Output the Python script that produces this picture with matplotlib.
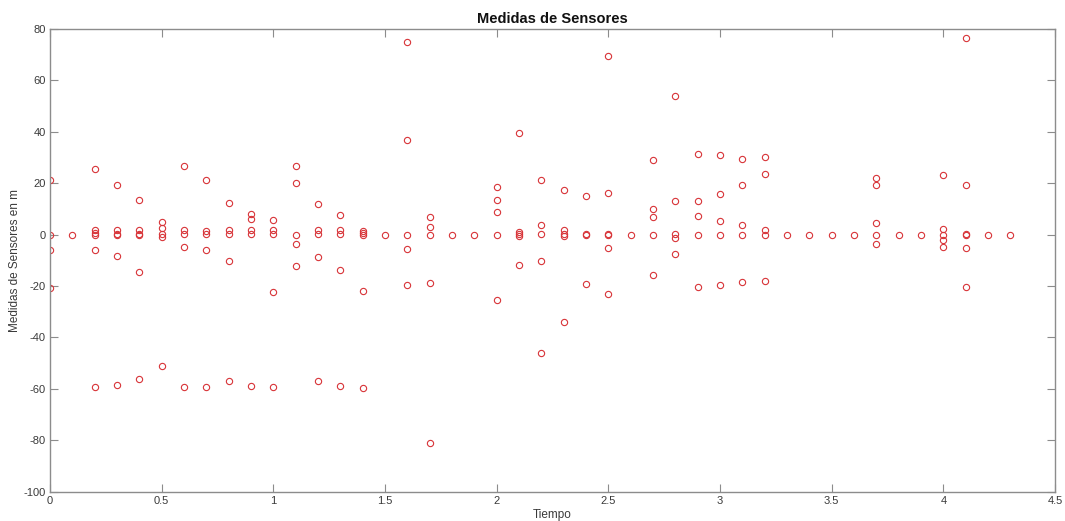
import matplotlib

matplotlib.use("Agg")

import matplotlib.pyplot as plt

plt.rcParams["font.family"] = ["Liberation Sans", "DejaVu Sans"]
plt.rcParams["axes.unicode_minus"] = False

tiempos = [
    0.0, 0.1, 0.2, 0.3, 0.4, 0.5, 0.6, 0.7, 0.8, 0.9,
    1.0, 1.1, 1.2, 1.3, 1.4, 1.5, 1.6, 1.7, 1.8, 1.9,
    2.0, 2.1, 2.2, 2.3, 2.4, 2.5, 2.6, 2.7, 2.8, 2.9,
    3.0, 3.1, 3.2, 3.3, 3.4, 3.5, 3.6, 3.7, 3.8, 3.9,
    4.0, 4.1, 4.2, 4.3,
]
medidas = [
    [21.4, 0, -5.8, -20.9],
    [0],
    [25.6, 2.0, 0.5, 0, -6.0, -59.1],
    [19.5, 2.0, 0.4, 0, -8.4, -58.6],
    [13.5, 2.0, 0.4, 0, -14.7, -56.0],
    [5.1, 2.7, 0.1, -0.9, -51.0],
    [26.6, 1.7, 0.4, -4.8, -59.4],
    [21.3, 1.4, 0.1, -5.8, -59.2],
    [12.5, 2.0, 0.4, -10.3, -57.0],
    [8.2, 6.0, 2.0, 0.4, -58.7],
    [5.8, 2.0, 0.4, -22.3, -59.2],
    [26.9, 20.0, 0, -3.8, -12.2],
    [11.8, 1.9, 0.4, -8.8, -57.1],
    [7.5, 2.0, 0.4, -13.9, -58.7],
    [1.3, 0.5, 0, -21.8, -59.6],
    [0],
    [75.0, 36.8, 0, -5.5, -19.4],
    [7.0, 3.0, 0, -19.0, -80.9],
    [0],
    [0],
    [18.7, 13.4, 9.0, 0, -25.5],
    [39.6, 0.9, 0.3, -0.4, -11.9],
    [21.4, 3.6, 0.4, -10.3, -46.1],
    [17.5, 1.7, 0.4, -0.6, -33.9],
    [15.1, 0.4, 0, -19.2],
    [69.4, 16.1, 0.4, 0, -5.3, -22.9],
    [0],
    [29.1, 9.9, 7.0, 0, -15.8],
    [53.8, 13.0, 0.1, -1.4, -7.5],
    [31.4, 13.1, 7.1, 0, -20.4],
    [30.8, 15.8, 5.5, 0, -19.6],
    [29.4, 19.2, 3.8, 0, -18.4],
    [30.1, 23.4, 1.9, 0, -17.9],
    [0],
    [0],
    [0],
    [0],
    [21.9, 19.5, 4.4, 0, -3.6],
    [0],
    [0],
    [23.2, 2.1, 0, -1.9, -4.9],
    [76.6, 19.5, 0.4, 0, -5.2, -20.3],
    [0],
    [0],
]

x_ticks = [0, 0.5, 1, 1.5, 2, 2.5, 3, 3.5, 4, 4.5]
x_tick_labels = ["0", "0.5", "1", "1.5", "2", "2.5", "3", "3.5", "4", "4.5"]
y_ticks = [-100, -80, -60, -40, -20, 0, 20, 40, 60, 80]

t_pts = []
y_pts = []
for t, vals in zip(tiempos, medidas):
    for v in vals:
        t_pts.append(t)
        y_pts.append(v)

fig = plt.figure(figsize=(10.65, 5.21), dpi=100)
ax = fig.add_axes([0.047, 0.0563, 0.9436, 0.888])

ax.plot(t_pts, y_pts, "o", markersize=4.5, markerfacecolor="none",
        markeredgecolor="#d83438", markeredgewidth=0.8, linestyle="none")

ax.set_xlim(0, 4.5)
ax.set_ylim(-100, 80)
ax.set_xticks(x_ticks)
ax.set_xticklabels(x_tick_labels)
ax.set_yticks(y_ticks)

label_color = "#3a3a3a"
for side in ["left", "right", "top", "bottom"]:
    ax.spines[side].set_color("#8c8c8c")
    ax.spines[side].set_linewidth(1.0)
ax.tick_params(direction="in", length=5.5, width=0.8, color="#8c8c8c",
               top=True, right=True, labelsize=8, labelcolor=label_color, pad=3)

ax.set_title("Medidas de Sensores", fontsize=10.5, fontweight="bold", color="#111111", pad=4)
ax.set_xlabel("Tiempo", fontsize=8.5, color=label_color, labelpad=2)
ax.set_ylabel("Medidas de Sensores en m", fontsize=8.5, color=label_color, labelpad=2)

fig.savefig("out.png", dpi=100)
plt.close(fig)
